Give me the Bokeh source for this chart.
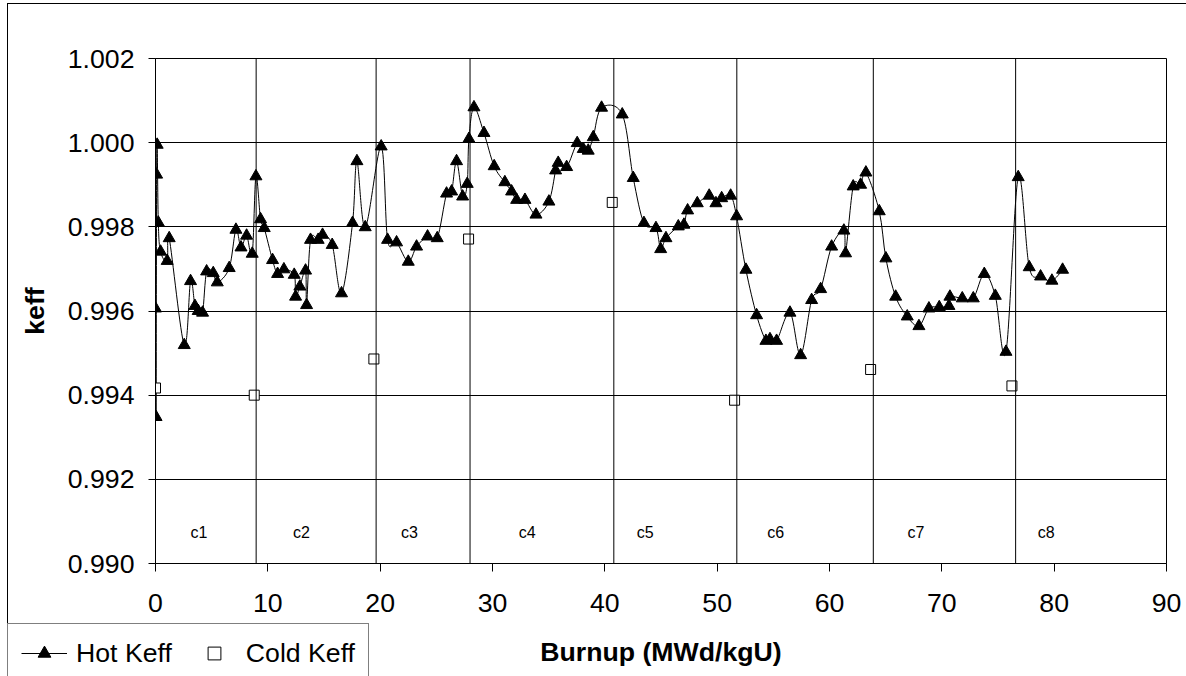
import numpy as np
from bokeh.plotting import figure
from bokeh.layouts import column
from bokeh.models import (Range1d, FixedTicker, NumeralTickFormatter, Span, Legend,
                          LegendItem, ColumnDataSource)
from bokeh.core.properties import value
from bokeh.embed import file_html
from bokeh.resources import INLINE

# ---------------- data ----------------
hot_x = [0.0, 0.05, 0.1, 0.15, 0.25, 0.45, 1.04, 1.22, 2.56, 3.12,
         3.51, 3.8, 4.19, 4.55, 5.14, 5.5, 6.56, 7.16, 7.61, 8.11,
         8.61, 8.94, 9.35, 9.68, 10.42, 10.87, 11.43, 12.35, 12.47, 12.85,
         13.36, 13.45, 13.8, 14.48, 14.87, 15.73, 16.56, 17.54, 17.93, 18.67,
         20.09, 20.66, 21.46, 22.5, 23.24, 24.22, 25.08, 25.91, 26.36, 26.8,
         27.34, 27.75, 27.9, 28.35, 29.24, 30.15, 31.1, 31.7, 32.15, 32.89,
         33.87, 35.02, 35.62, 35.85, 36.6, 37.54, 38.08, 38.52, 38.97, 39.71,
         41.55, 42.53, 43.48, 44.55, 44.97, 45.44, 46.54, 47.04, 47.37, 48.23,
         49.29, 49.89, 50.4, 51.2, 51.73, 52.56, 53.51, 54.34, 54.7, 55.29,
         56.48, 57.43, 58.41, 59.21, 60.19, 61.28, 61.43, 62.11, 62.77, 63.24,
         64.43, 65.02, 65.89, 66.92, 67.96, 68.85, 69.77, 70.63, 70.72, 71.82,
         72.8, 73.78, 74.76, 75.71, 76.8, 77.78, 78.79, 79.8, 80.75]
hot_keff = [0.99606, 0.99348, 0.99924, 0.99995, 0.99810, 0.99741, 0.99719, 0.99773, 0.99519, 0.99671,
            0.99612, 0.99600, 0.99596, 0.99694, 0.99690, 0.99668, 0.99702, 0.99793, 0.99751, 0.99779,
            0.99736, 0.99920, 0.99818, 0.99797, 0.99721, 0.99688, 0.99699, 0.99686, 0.99634, 0.99658,
            0.99696, 0.99614, 0.99769, 0.99769, 0.99781, 0.99757, 0.99642, 0.99809, 0.99956, 0.99799,
            0.99991, 0.99769, 0.99763, 0.99717, 0.99753, 0.99777, 0.99773, 0.99879, 0.99884, 0.99956,
            0.99872, 0.99902, 1.00009, 1.00084, 1.00023, 0.99944, 0.99906, 0.99884, 0.99864, 0.99864,
            0.99829, 0.99860, 0.99934, 0.99952, 0.99942, 0.99999, 0.99985, 0.99981, 1.00013, 1.00083,
            1.00067, 0.99916, 0.99809, 0.99797, 0.99747, 0.99773, 0.99801, 0.99805, 0.99839, 0.99856,
            0.99874, 0.99856, 0.99868, 0.99874, 0.99825, 0.99698, 0.99590, 0.99529, 0.99533, 0.99529,
            0.99596, 0.99495, 0.99626, 0.99652, 0.99753, 0.99791, 0.99737, 0.99896, 0.99900, 0.99929,
            0.99837, 0.99725, 0.99634, 0.99587, 0.99564, 0.99606, 0.99609, 0.99612, 0.99634, 0.99630,
            0.99630, 0.99688, 0.99636, 0.99503, 0.99918, 0.99704, 0.99682, 0.99672, 0.99698]

cold_x = [0.0, 8.79, 19.44, 27.87, 40.66, 51.55, 63.66, 76.24]
cold_keff = [0.99417, 0.99400, 0.99486, 0.99771, 0.99858, 0.99388, 0.99461, 0.99422]

cycle_bounds = [8.96, 19.64, 28.0, 40.8, 51.75, 63.9, 76.57]
cycle_names = ["c1", "c2", "c3", "c4", "c5", "c6", "c7", "c8"]
cycle_label_x = [3.87, 13.0, 22.6, 33.1, 43.6, 55.2, 67.7, 79.3]
cycle_label_y = 0.99074

x_ticks = [0, 10, 20, 30, 40, 50, 60, 70, 80, 90]
y_ticks = [0.990, 0.992, 0.994, 0.996, 0.998, 1.000, 1.002]

FONT = "Liberation Sans"

# ---------------- main chart ----------------
p = figure(width=1186, height=676, output_backend="svg", toolbar_location=None,
           x_range=Range1d(0, 90), y_range=Range1d(0.990, 1.002),
           min_border_left=155, min_border_right=20, min_border_top=58,
           min_border_bottom=113)
# outer chart border (left and top edges visible in the reference)
p.styles = {
    "background": ("linear-gradient(#000,#000) 7px 3px / 1px 800px no-repeat, "
                   "linear-gradient(#000,#000) 7px 3px / 1400px 1px no-repeat, #ffffff"),
}
p.background_fill_color = "white"
p.border_fill_alpha = 0.0
p.outline_line_color = "black"
p.outline_line_width = 1

p.xaxis.ticker = FixedTicker(ticks=x_ticks)
p.yaxis.ticker = FixedTicker(ticks=y_ticks)
p.yaxis.formatter = NumeralTickFormatter(format="0.000")
for ax in (p.xaxis[0], p.yaxis[0]):
    ax.major_label_text_font = FONT
    ax.major_label_text_font_size = "20pt"
    ax.major_label_text_color = "black"
    ax.axis_line_color = "black"
    ax.major_tick_line_color = "black"
    ax.major_tick_in = 0
    ax.minor_tick_line_color = None
    ax.axis_label_text_font = FONT
    ax.axis_label_text_font_style = "bold"
    ax.axis_label_text_font_size = "20pt"
    ax.axis_label_text_color = "black"
p.xaxis.major_tick_out = 8
p.yaxis.major_tick_out = 7
p.xaxis.major_label_standoff = 22
p.yaxis.major_label_standoff = 14
p.xaxis.axis_label = "Burnup (MWd/kgU)"
p.yaxis.axis_label = "keff"
p.xaxis.axis_label_standoff = 22
p.yaxis.axis_label_standoff = 15
p.xgrid.visible = False
p.ygrid.grid_line_color = "black"
p.ygrid.grid_line_width = 1

for b in cycle_bounds:
    p.add_layout(Span(location=b, dimension="height", line_color="black", line_width=1))

p.text(x=cycle_label_x, y=[cycle_label_y] * len(cycle_names), text=cycle_names,
       text_font=value(FONT), text_font_size="12pt", text_align="center",
       text_baseline="middle", text_color="black")

# smoothed line (Excel-like Catmull-Rom Bezier segments through the data points)
xs = np.array(hot_x, dtype=float)
ys = np.array(hot_keff, dtype=float)
xp = np.concatenate([[xs[0]], xs, [xs[-1]]])
yp = np.concatenate([[ys[0]], ys, [ys[-1]]])
n = len(xs)
seg = ColumnDataSource(dict(
    x0=xs[:-1], y0=ys[:-1], x1=xs[1:], y1=ys[1:],
    cx0=xs[:-1] + (xp[2:n + 1] - xp[0:n - 1]) / 6.0,
    cy0=ys[:-1] + (yp[2:n + 1] - yp[0:n - 1]) / 6.0,
    cx1=xs[1:] - (xp[3:n + 2] - xp[1:n]) / 6.0,
    cy1=ys[1:] - (yp[3:n + 2] - yp[1:n]) / 6.0,
))
p.bezier(x0="x0", y0="y0", x1="x1", y1="y1", cx0="cx0", cy0="cy0", cx1="cx1", cy1="cy1",
         source=seg, line_color="black", line_width=1)

p.scatter(hot_x, hot_keff, marker="triangle", size=12,
          fill_color="black", line_color="black")
p.scatter(cold_x, cold_keff, marker="square", size=10,
          fill_color="white", line_color="black", line_width=1)

# ---------------- legend (own small figure, pinned to the bottom-left corner) ----------------
# The column aligns plot frames, so this figure keeps the same side borders as the
# main chart and is shifted left by the same amount; its ranges lie away from the
# data, so its renderers only serve as legend glyphs.
LEG_W = 366
p_leg = figure(width=155 + LEG_W + 20, height=53, output_backend="svg",
               toolbar_location=None, title=None,
               x_axis_type=None, y_axis_type=None,
               min_border_left=155, min_border_right=20, min_border_top=0,
               min_border_bottom=0,
               x_range=Range1d(-100, -99), y_range=Range1d(-100, -99))
p_leg.outline_line_color = None
p_leg.xgrid.visible = False
p_leg.ygrid.visible = False
p_leg.background_fill_color = "white"
p_leg.background_fill_alpha = 0.0
p_leg.border_fill_alpha = 0.0
p_leg.styles = {"position": "absolute", "left": "-148px", "top": "623px", "z-index": "5"}

lg_line = p_leg.line(hot_x, hot_keff, line_color="black", line_width=1)
lg_tri = p_leg.scatter(hot_x, hot_keff, marker="triangle", fill_color="black",
                       line_color="black")
lg_sq = p_leg.scatter(cold_x, cold_keff, marker="square", fill_color="white",
                      line_color="black", line_width=1)

legend = Legend(items=[LegendItem(label="Hot Keff", renderers=[lg_line, lg_tri]),
                       LegendItem(label="Cold Keff", renderers=[lg_sq])],
                location="top_left", orientation="horizontal", margin=0,
                padding=13, spacing=19, glyph_width=46, glyph_height=32,
                label_height=32, label_standoff=9,
                border_line_color="black", border_line_width=1,
                background_fill_color="white", background_fill_alpha=1.0,
                label_text_font=FONT, label_text_font_size="20pt",
                label_text_color="black")
p_leg.add_layout(legend, "center")

page = column(p, p_leg, spacing=0)
open("out.html", "w").write(file_html(page, INLINE))
